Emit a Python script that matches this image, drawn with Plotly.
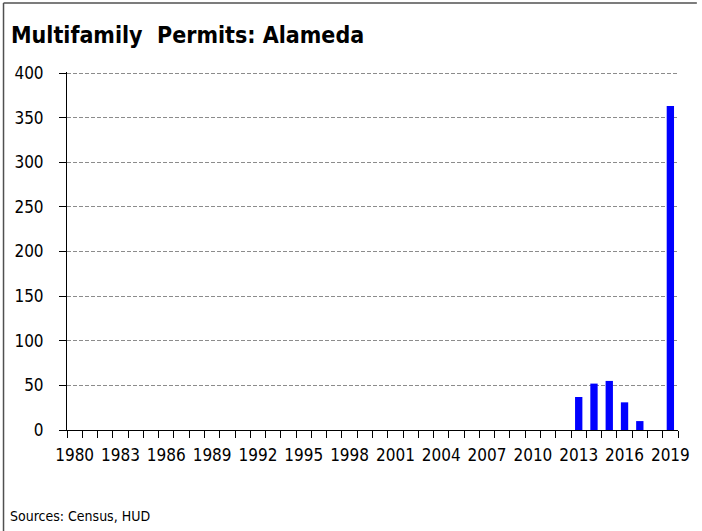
import plotly.graph_objects as go

years = list(range(1980, 2020))
permits = [0]*33 + [37, 52, 55, 31, 10, 0, 363]
tick_years = years[::3]
y_ticks = list(range(0, 401, 50))

FONT = "DejaVu Sans Condensed, Liberation Sans Narrow, sans-serif"

W, H = 702, 531
L, R, T, B = 67, 19, 72, 101
pw, ph = W - L - R, H - T - B

fig = go.Figure()
fig.add_trace(go.Bar(x=years, y=permits, marker=dict(color="#0000FF", line=dict(width=0)), width=0.48))

fig.update_layout(
    width=W, height=H,
    margin=dict(l=L, r=R, t=T, b=B, pad=0),
    paper_bgcolor="white", plot_bgcolor="white",
    showlegend=False,
    font=dict(family=FONT, size=17, color="black"),
    xaxis=dict(
        range=[years[0] - 0.5, years[-1] + 0.5],
        tickmode="array", tickvals=tick_years, ticktext=[str(y) for y in tick_years],
        ticks="", showgrid=False, zeroline=False,
        showline=True, linecolor="black", linewidth=1,
        tickfont=dict(size=17), ticklabelstandoff=10,
        minor=dict(tickmode="linear", tick0=years[0] - 0.5, dtick=1, ticks="outside",
                   ticklen=7, tickcolor="black", tickwidth=1, showgrid=False),
        fixedrange=True,
    ),
    yaxis=dict(
        range=[0, 401.2],
        tickmode="array", tickvals=y_ticks,
        ticks="outside", ticklen=7, tickcolor="black",
        showgrid=True, gridcolor="#8c8c8c", griddash="4px,2px", gridwidth=1,
        zeroline=False, showline=True, linecolor="black", linewidth=1,
        tickfont=dict(size=17), ticklabelstandoff=12,
        fixedrange=True,
    ),
    annotations=[
        dict(text="<b>Multifamily  Permits: Alameda</b>", xref="paper", yref="paper",
             x=(9 - L) / pw, y=1 + (T - 20) / ph, xanchor="left", yanchor="top",
             showarrow=False, font=dict(size=23, family=FONT, color="black")),
        dict(text="Sources: Census, HUD", xref="paper", yref="paper",
             x=(8 - L) / pw, y=-(526 - T - ph) / ph, xanchor="left", yanchor="bottom",
             showarrow=False, font=dict(size=14, family=FONT, color="black")),
    ],
    shapes=[
        dict(type="line", xref="paper", yref="paper", x0=(3 - L) / pw, x1=(W - L) / pw,
             y0=1 + (T - 3) / ph, y1=1 + (T - 3) / ph, line=dict(color="#505050", width=1.5)),
        dict(type="line", xref="paper", yref="paper", x0=(3 - L) / pw, x1=(3 - L) / pw,
             y0=1 + (T - 3) / ph, y1=-(H - T - ph) / ph, line=dict(color="#505050", width=1.5)),
    ],
)

fig.write_html("out.html", config={"displayModeBar": False},
               post_script="document.body.style.margin='0';document.body.style.overflow='hidden';")
